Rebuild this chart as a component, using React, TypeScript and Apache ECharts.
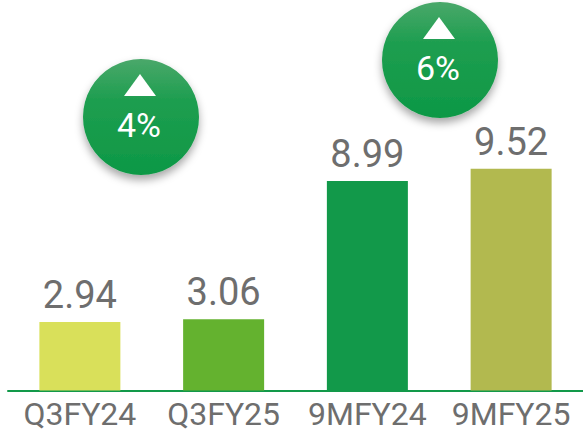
import React, { useEffect, useRef } from "react";
import * as echarts from "echarts";

const categories = ["Q3FY24", "Q3FY25", "9MFY24", "9MFY25"];
const values = [2.94, 3.06, 8.99, 9.52];
const barColors = ["#d9e05a", "#64b22f", "#12994a", "#b2b94f"];
const growthLabels = ["4%", "6%"];

export default function App() {
  const ref = useRef<HTMLDivElement>(null);
  useEffect(() => {
    document.body.style.margin = "0";
    const chart = echarts.init(ref.current!, null, { renderer: "svg" });
    const bubble = (cx: number, cy: number, label: string) => ({
      type: "group",
      children: [
        {
          type: "circle",
          shape: { cx, cy, r: 58 },
          style: {
            fill: new echarts.graphic.LinearGradient(0, 0, 0, 1, [
              { offset: 0, color: "#4aa86a" },
              { offset: 0.35, color: "#1e9e50" },
              { offset: 1, color: "#0d9845" },
            ]),
            shadowBlur: 8,
            shadowOffsetY: 5,
            shadowColor: "rgba(0,0,0,0.35)",
          },
        },
        {
          type: "polygon",
          shape: {
            points: [
              [cx - 1, cy - 43],
              [cx + 15, cy - 21],
              [cx - 17, cy - 21],
            ],
          },
          style: { fill: "#ffffff" },
        },
        {
          type: "text",
          x: cx - 2,
          y: cy + 8,
          style: {
            text: label,
            fill: "#ffffff",
            fontSize: 34,
            fontFamily: "Roboto",
            align: "center",
            verticalAlign: "middle",
          },
        },
      ],
    });
    chart.setOption({
      animation: false,
      grid: { left: 8, width: 580, top: 157.5, height: 233 },
      xAxis: {
        type: "category",
        data: categories,
        axisLine: { lineStyle: { color: "#12994a", width: 2 } },
        axisTick: { show: false },
        axisLabel: {
          color: "#6e6e6e",
          fontFamily: "Roboto",
          fontSize: 32,
          margin: 7,
          interval: 0,
        },
      },
      yAxis: {
        type: "value",
        min: 0,
        max: 10,
        show: false,
        splitLine: { show: false },
      },
      series: [
        {
          type: "bar",
          barWidth: 81,
          data: values.map((v, i) => ({ value: v, itemStyle: { color: barColors[i] } })),
          label: {
            show: true,
            position: "top",
            distance: 8,
            color: "#6e6e6e",
            fontFamily: "Roboto",
            fontSize: 38,
          },
        },
      ],
      graphic: [bubble(141, 117, growthLabels[0]), bubble(440, 60, growthLabels[1])],
    });
    return () => chart.dispose();
  }, []);
  return (
    <div
      ref={ref}
      style={{ position: "fixed", left: 0, top: 0, width: 583, height: 432, background: "#fff" }}
    />
  );
}
